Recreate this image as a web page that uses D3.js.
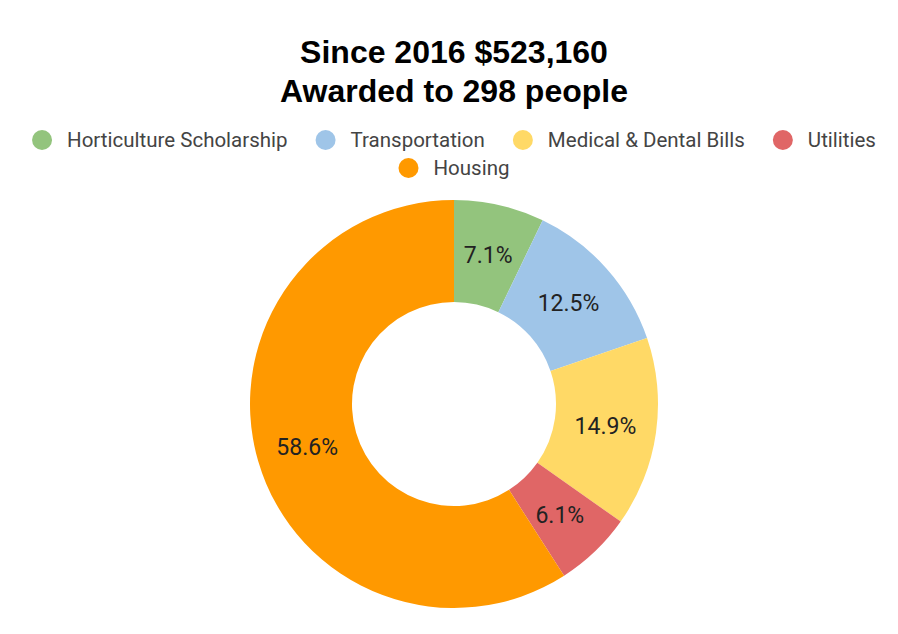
<!DOCTYPE html>
<html lang="en">
<head>
<meta charset="UTF-8">
<title>Since 2016 $523,160</title>
<style>
  body { margin: 0; background: #fff; }
</style>
</head>
<body>
<script src="https://d3js.org/d3.v7.min.js"></script>
<script>
// data
var categories = ["Horticulture Scholarship", "Transportation", "Medical & Dental Bills", "Utilities", "Housing"];
var shares = [7.1, 12.5, 14.9, 6.1, 58.6];
var colors = ["#93c47d", "#9fc5e8", "#ffd966", "#e06666", "#ff9900"];
var titleLines = ["Since 2016 $523,160", "Awarded to 298 people"];

var W = 898, H = 634;
var cx = 454, cy = 404, outerR = 204, innerR = 102;

var svg = d3.select("body").append("svg")
  .attr("width", W)
  .attr("height", H);

// title
svg.append("g").selectAll("text")
  .data(titleLines)
  .enter().append("text")
  .attr("x", cx)
  .attr("y", function(d, i) { return 63 + i * 39; })
  .attr("text-anchor", "middle")
  .attr("font-family", "'Liberation Sans', Arial, sans-serif")
  .attr("font-weight", "bold")
  .attr("font-size", "32px")
  .attr("fill", "#000")
  .text(function(d) { return d; });

// legend, wrapped into centred rows
var legFont = 20.5, dotR = 10, dotGap = 25, itemGap = 38, maxRow = 870;
var legend = svg.append("g").attr("font-family", "Roboto, sans-serif").attr("font-size", legFont + "px");

var items = legend.selectAll("g")
  .data(categories)
  .enter().append("g");

items.append("circle")
  .attr("cx", dotR)
  .attr("r", dotR)
  .attr("fill", function(d, i) { return colors[i]; });

items.append("text")
  .attr("x", dotR + dotGap)
  .attr("dy", "0.35em")
  .attr("fill", "#444")
  .text(function(d) { return d; });

var rows = [[]], rowW = [0];
items.each(function(d, i) {
  var w = dotR + dotGap + this.querySelector("text").getComputedTextLength();
  var r = rows.length - 1;
  var add = rows[r].length ? itemGap - dotR + w : w;
  if (rows[r].length && rowW[r] + add > maxRow) {
    rows.push([]); rowW.push(0); r++;
    add = w;
  }
  rows[r].push({node: this, w: w});
  rowW[r] += add;
});
rows.forEach(function(row, r) {
  var x = cx - rowW[r] / 2;
  row.forEach(function(it) {
    d3.select(it.node).attr("transform", "translate(" + x + "," + (140 + r * 28) + ")");
    x += it.w + itemGap - dotR;
  });
});

// donut
var pie = d3.pie().sort(null).value(function(d) { return d; });
var arc = d3.arc().innerRadius(innerR).outerRadius(outerR);
var labelArc = d3.arc().innerRadius((innerR + outerR) / 2).outerRadius((innerR + outerR) / 2);

var g = svg.append("g").attr("transform", "translate(" + cx + "," + cy + ")");
var arcs = pie(shares);

g.selectAll("path")
  .data(arcs)
  .enter().append("path")
  .attr("d", arc)
  .attr("fill", function(d, i) { return colors[i]; });

g.selectAll("text")
  .data(arcs)
  .enter().append("text")
  .attr("transform", function(d) { return "translate(" + labelArc.centroid(d) + ")"; })
  .attr("text-anchor", "middle")
  .attr("dy", "0.35em")
  .attr("font-family", "Roboto, sans-serif")
  .attr("font-size", "23px")
  .attr("fill", "#222")
  .text(function(d) { return d.data.toFixed(1) + "%"; });
</script>
</body>
</html>
